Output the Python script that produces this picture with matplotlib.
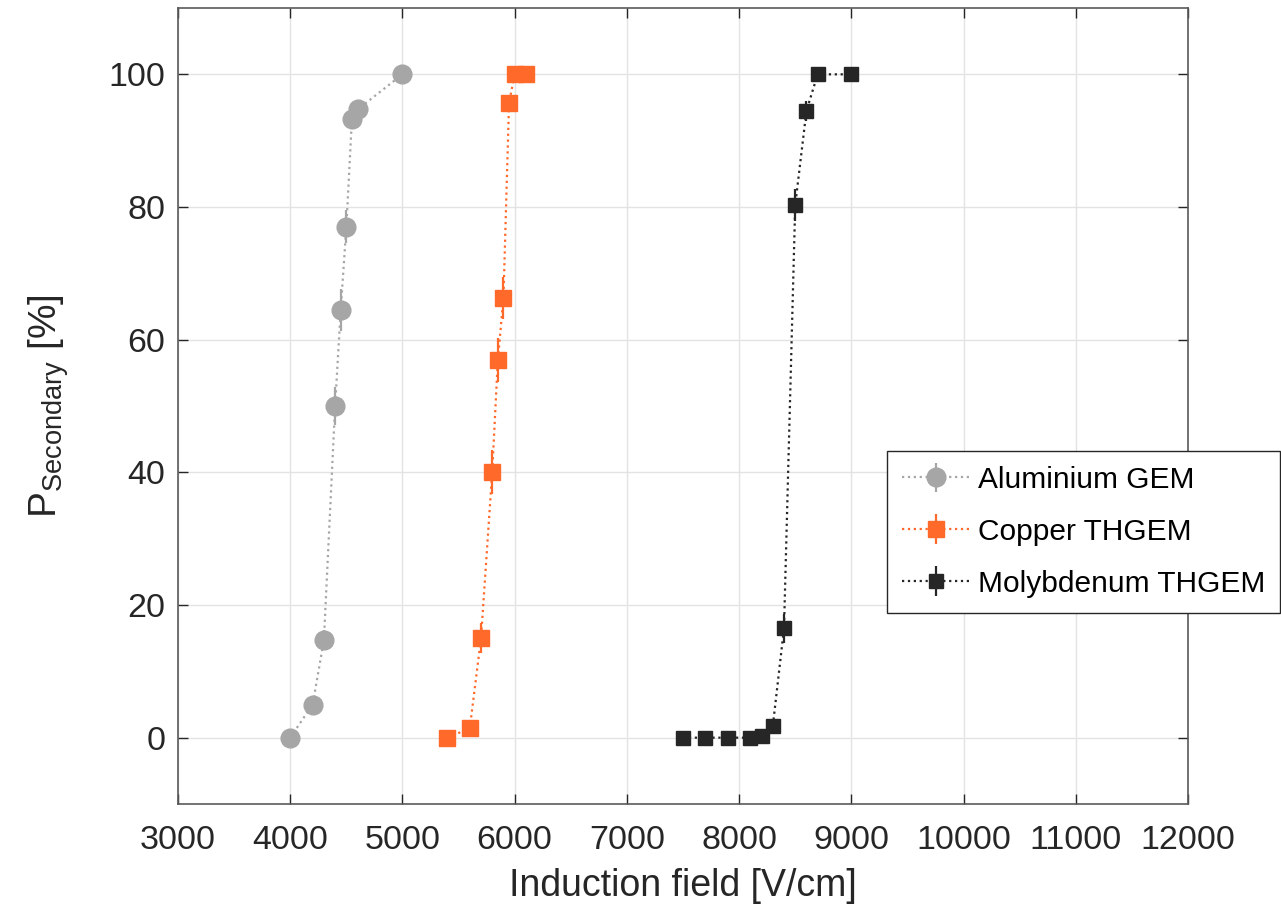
import matplotlib
matplotlib.use("Agg")
import matplotlib.pyplot as plt

plt.rcParams['font.family'] = ['Liberation Sans', 'DejaVu Sans']
plt.rcParams['mathtext.fontset'] = 'custom'
plt.rcParams['mathtext.rm'] = 'Liberation Sans'
plt.rcParams['mathtext.it'] = 'Liberation Sans'

# data
al_field = [4000, 4200, 4300, 4400, 4450, 4500, 4550, 4600, 5000]
al_prob = [0, 5.0, 14.7, 50.0, 64.5, 77.0, 93.3, 94.7, 100]
al_err = [0.3, 1.0, 1.5, 2.9, 3.2, 2.5, 1.5, 1.3, 0.3]

cu_field = [5400, 5600, 5700, 5800, 5850, 5900, 5950, 6000, 6100]
cu_prob = [0, 1.4, 15.0, 40.1, 56.9, 66.3, 95.7, 100, 100]
cu_err = [0.3, 0.8, 2.3, 3.3, 3.3, 3.2, 1.2, 0.3, 0.3]

mo_field = [7500, 7700, 7900, 8100, 8200, 8300, 8400, 8500, 8600, 8700, 9000]
mo_prob = [0, 0, 0, 0, 0.3, 1.7, 16.5, 80.3, 94.5, 100, 100]
mo_err = [0.2, 0.2, 0.2, 0.2, 0.4, 0.8, 2.2, 2.4, 1.5, 0.3, 0.3]

txt = '#262626'

fig = plt.figure(figsize=(12.81, 9.08), dpi=100)
ax = fig.add_axes([178/1281, 1-804/908, (1188-178)/1281, (804-8)/908])

ax.errorbar(al_field, al_prob, yerr=al_err, fmt='o', ls=':', color='#A6A6A6',
            ms=13.5, lw=1.6, elinewidth=1.6, capsize=0, label='Aluminium GEM')
ax.errorbar(cu_field, cu_prob, yerr=cu_err, fmt='s', ls=':', color='#FF6929',
            ms=11, lw=1.6, elinewidth=1.6, capsize=0, label='Copper THGEM')
ax.errorbar(mo_field, mo_prob, yerr=mo_err, fmt='s', ls=':', color='#262626',
            ms=10.5, lw=1.6, elinewidth=1.6, capsize=0, label='Molybdenum THGEM')

ax.set_xlim(3000, 12000)
ax.set_ylim(-10, 110)
ax.set_xticks(range(3000, 12001, 1000))
ax.set_yticks(range(0, 101, 20))
ax.grid(True, color='#E3E3E3', lw=1)
ax.set_axisbelow(True)
ax.tick_params(direction='in', top=True, right=True, length=7, width=1,
               labelsize=24.5, colors=txt)
ax.tick_params(axis='x', pad=15)
ax.tick_params(axis='y', pad=9)
for s in ax.spines.values():
    s.set_color('#5a5a5a')
    s.set_linewidth(1.2)

ax.set_xlabel('Induction field [V/cm]', fontsize=27, color=txt, labelpad=9)
ax.set_ylabel(r'P$_{\mathrm{Secondary}}$ [%]', fontsize=28, color=txt, labelpad=27)

leg = ax.legend(loc='upper left', bbox_to_anchor=(887/1281, 1-451/908),
                bbox_transform=fig.transFigure, fontsize=21.5, frameon=True,
                fancybox=False, edgecolor='#262626', framealpha=1,
                handlelength=2.3, borderpad=0.5, labelspacing=0.8,
                handletextpad=0.25, borderaxespad=0)
leg.get_frame().set_linewidth(1)

fig.savefig('out.png', dpi=100)
